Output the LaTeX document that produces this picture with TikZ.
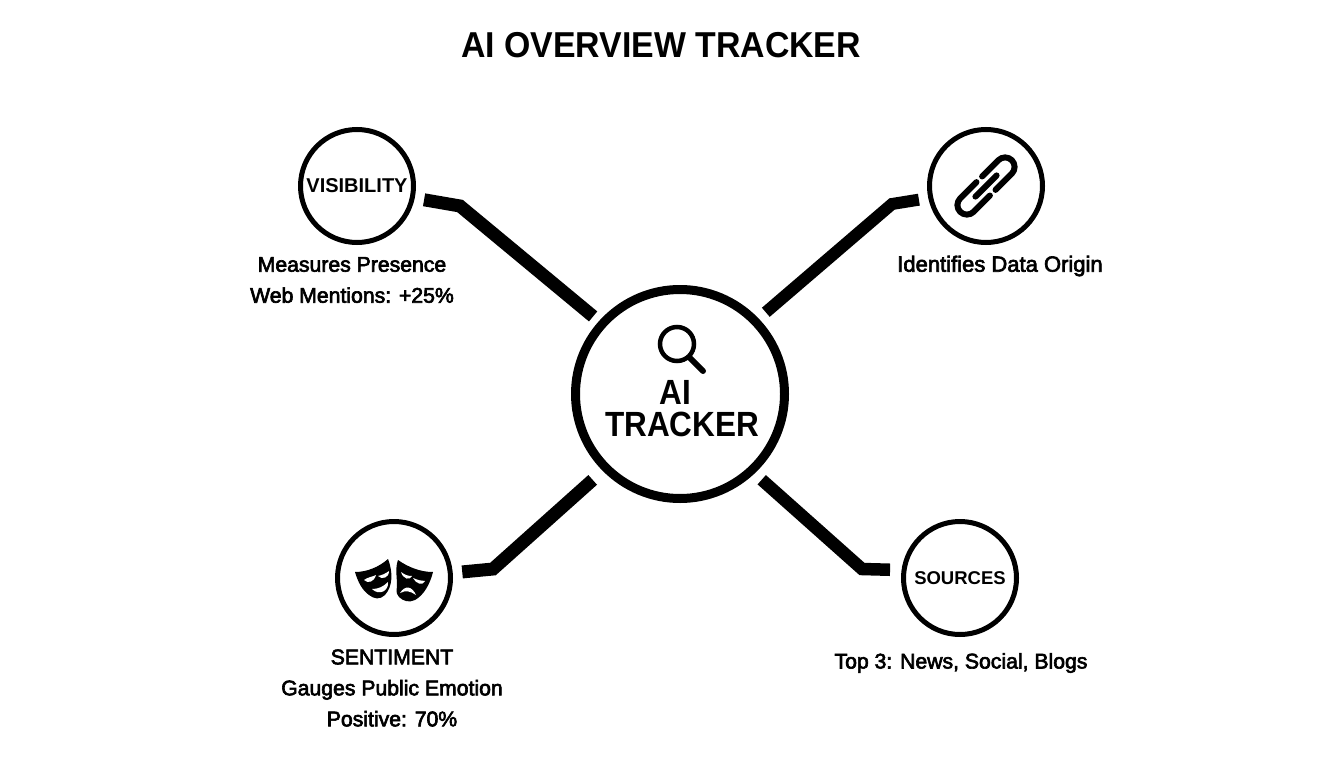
\documentclass[tikz,border=0pt]{standalone}
\usepackage{fontspec}
\setmainfont{Liberation Sans}
\newfontfamily\medf[FakeBold=3]{Liberation Sans}
\tikzset{
  hub/.style={circle,draw=black,line width=9pt,minimum size=209pt,inner sep=0pt,outer sep=0pt},
  sat/.style={circle,draw=black,line width=5pt,minimum size=113pt,inner sep=0pt,outer sep=0pt,font=\bfseries\fontsize{20}{22}\selectfont},
  conn/.style={draw=black,line width=#1,line join=miter,miter limit=4},
  captext/.style={align=center,inner sep=0pt,font=\medf\fontsize{21.2}{31}\selectfont},
  glyphline/.style={draw=black,line width=6pt,line cap=round,line join=round},
  maskfill/.style={fill=black,draw=none},
  maskcut/.style={fill=white,draw=none},
  squeezed/.style={xscale=#1,transform shape},
}
\begin{document}
\begin{tikzpicture}[x=1pt,y=-1pt]
\useasboundingbox (0,0) rectangle (1344,768);
\fill[white] (0,0) rectangle (1344,768);

\node[inner sep=0pt,squeezed=0.94,font=\bfseries\fontsize{36}{40}\selectfont] (title) at (661,45) {AI OVERVIEW TRACKER};

\node[hub] (hubc) at (680,394) {};
\node[sat] (vis) at (357,186) {\raisebox{-1.5pt}{VISIBILITY}};
\node[sat] (lnk) at (986,186) {};
\node[sat] (sen) at (394,578) {};
\node[sat] (src) at (960,578) {\raisebox{-1.5pt}{\fontsize{18.5}{22}\selectfont SOURCES}};

\coordinate (b1) at (460,206);
\coordinate (b2) at (892,204);
\coordinate (b3) at (493,569);
\coordinate (b4) at (862,569);
\draw[conn=13pt,shorten <=12pt,shorten >=12pt] (vis.-12) -- (b1) -- (hubc.138);
\draw[conn=12pt,shorten <=12pt,shorten >=14pt] (lnk.192) -- (b2) -- (hubc.44);
\draw[conn=13pt,shorten <=12pt,shorten >=18pt] (sen.5) -- (b3) -- (hubc.225);
\draw[conn=12.5pt,shorten <=14pt,shorten >=14pt] (src.172) -- (b4) -- (hubc.-47);

\node[captext] (t1) at (352,280) {Measures Presence\\Web Mentions: +25\%};
\node[captext,font=\medf\fontsize{22}{31}\selectfont] (t2) at (1000,266) {Identifies Data Origin};
\node[captext] (t3) at (392,688) {SENTIMENT\\Gauges Public Emotion\\Positive: 70\%};
\node[captext] (t4) at (961,663) {Top 3: News, Social, Blogs};

% hub content
\draw[draw=black,line width=4.5pt] (677,344) circle (17pt);
\draw[draw=black,line width=6pt,line cap=round] (690,358) -- (703,371);
\node[inner sep=0pt,squeezed=0.9,font=\bfseries\fontsize{35}{40}\selectfont] (h1) at (675,392) {AI};
\node[inner sep=0pt,squeezed=0.9,font=\bfseries\fontsize{35}{40}\selectfont] (h2) at (682,424) {TRACKER};

% chain icon
\begin{scope}[shift={(986,186)},rotate=45]
  \draw[glyphline] (-4,-9.5) -- (-27,-9.5) arc[start angle=270,end angle=90,radius=9.5] -- (-4,9.5);
  \draw[glyphline] (4,-9.5) -- (27,-9.5) arc[start angle=-90,end angle=90,radius=9.5] -- (4,9.5);
  \draw[glyphline] (-15,0) -- (15,0);
\end{scope}

% masks
\fill[maskfill] (355,572) .. controls (367,572) and (379,567) .. (388,559)
  .. controls (393,572) and (393,586) .. (385,595)
  .. controls (380,600) and (374,599) .. (369,595)
  .. controls (362,590) and (358,582) .. (355,572) -- cycle;
\fill[maskfill] (398,560) .. controls (408,567) and (420,572) .. (433,572)
  .. controls (430,584) and (424,595) .. (415,600)
  .. controls (409,603) and (403,601) .. (399,597)
  .. controls (395,592) and (397,590) .. (397,585)
  .. controls (397,577) and (395,568) .. (398,560) -- cycle;
\fill[maskcut] (364,580) .. controls (368,577) and (372,577) .. (376,575) .. controls (374,582) and (368,584) .. (364,580) -- cycle;
\fill[maskcut] (378,576) .. controls (382,575) and (385,574) .. (389,571) .. controls (389,578) and (382,580) .. (378,576) -- cycle;
\fill[maskcut] (372,589) .. controls (378,589) and (383,587) .. (388,582) .. controls (389,591) and (379,596) .. (372,589) -- cycle;
\fill[maskcut] (401,572) .. controls (405,575) and (408,576) .. (412,576) .. controls (410,581) and (403,579) .. (401,572) -- cycle;
\fill[maskcut] (413,578) .. controls (418,580) and (421,581) .. (425,581) .. controls (423,586) and (416,584) .. (413,578) -- cycle;
\fill[maskcut] (400,593) .. controls (405,585) and (412,586) .. (416,595) .. controls (410,591) and (406,590) .. (400,593) -- cycle;
\end{tikzpicture}
\end{document}
